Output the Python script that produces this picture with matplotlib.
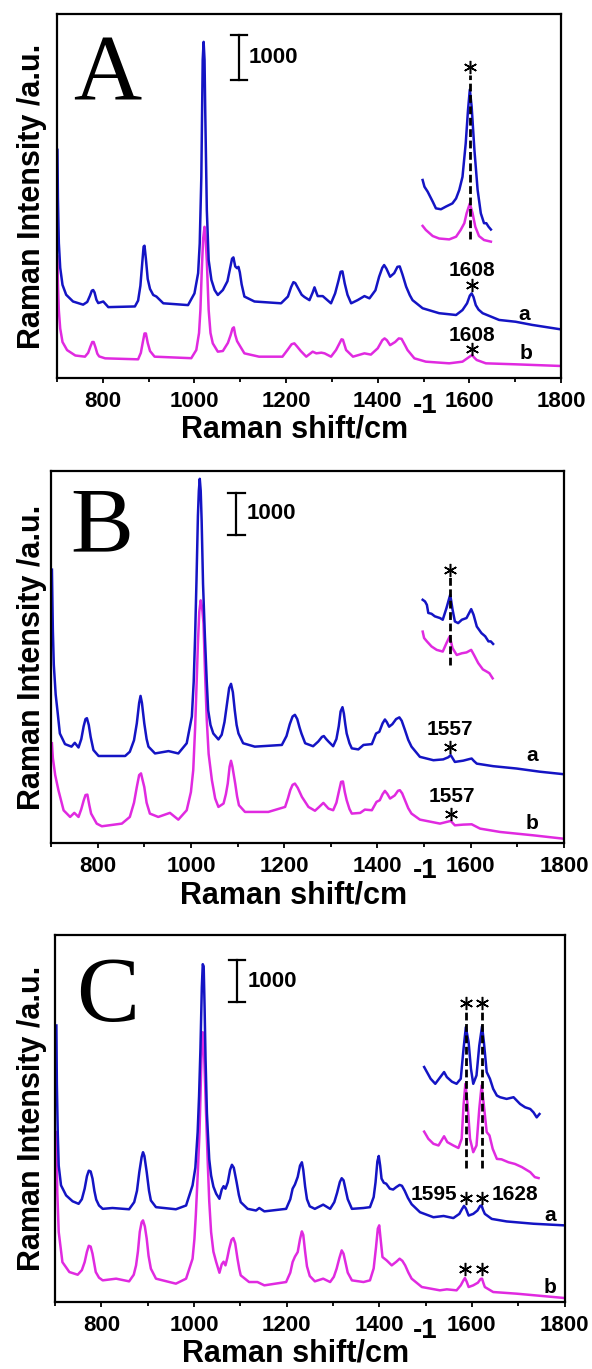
import numpy as np
import matplotlib
matplotlib.use('Agg')
import matplotlib.pyplot as plt
from matplotlib.ticker import MultipleLocator

plt.rcParams['font.family'] = 'Liberation Sans'
plt.rcParams['font.weight'] = 'bold'

BLUE = '#1414c4'
PINK = '#e02ae0'

# ---------------- panel A : (Raman shift, intensity)
A_a = [(701, 5070), (702, 4000), (704, 3000), (707, 2450), (712, 2070), (720, 1850), (735, 1700),
       (757, 1630), (766, 1690), (772, 1830), (776, 1940), (779, 1955), (782, 1900), (786, 1740),
       (790, 1665), (801, 1700), (812, 1575), (870, 1590), (877, 1720), (882, 2050), (886, 2550),
       (889, 2920), (891, 2940), (894, 2650), (898, 2200), (903, 1980), (910, 1845), (917, 1810),
       (932, 1660), (986, 1620), (1000, 1880), (1008, 2330), (1011.5, 2990), (1015, 4470), (1018, 7070),
       (1020, 7470), (1022, 7070), (1023.5, 5950), (1027, 3730), (1031, 2620), (1037, 2180), (1044, 1955),
       (1051, 1845), (1062, 1955), (1072, 2150), (1078, 2450), (1082, 2650), (1085, 2680), (1089, 2480),
       (1093, 2440), (1096, 2470), (1099, 2350), (1103, 2080), (1109, 1810), (1131, 1700), (1189, 1660),
       (1204, 1810), (1211, 2020), (1216, 2130), (1220, 2110), (1227, 1980), (1234, 1850), (1240, 1800),
       (1251, 1730), (1258, 1900), (1262, 2015), (1266, 1900), (1269, 1820), (1280, 1820), (1298, 1660),
       (1307, 1880), (1314, 2150), (1319, 2360), (1323, 2370), (1328, 2100), (1334, 1850), (1342, 1660),
       (1356, 1730), (1371, 1820), (1382, 1770), (1395, 1950), (1403, 2250), (1410, 2450), (1414, 2510),
       (1419, 2430), (1427, 2250), (1436, 2330), (1443, 2470), (1448, 2480), (1454, 2300), (1462, 2030),
       (1470, 1840), (1476, 1730), (1498, 1550), (1534, 1440), (1571, 1400), (1585, 1510), (1595, 1660),
       (1601, 1830), (1605, 1880), (1609, 1800), (1614, 1620), (1620, 1520), (1629, 1440), (1665, 1290),
       (1701, 1250), (1737, 1180), (1800, 1080)]
A_b = [(701, 2700), (702, 2100), (704, 1500), (707, 1100), (712, 800), (722, 620), (740, 500),
       (761, 474), (768, 560), (773, 700), (777, 800), (780, 800), (784, 680), (788, 540), (792, 480),
       (805, 437), (877, 415), (883, 560), (887, 780), (891, 990), (894, 990), (898, 780), (903, 600),
       (913, 474), (993, 440), (1004, 622), (1010, 1000), (1013, 1511), (1016, 2400), (1019, 3100),
       (1022, 3360), (1024, 3150), (1027, 2600), (1031, 1511), (1035, 1000), (1040, 770), (1051, 585),
       (1062, 600), (1073, 780), (1079, 955), (1083, 1100), (1086, 1126), (1089, 960), (1093, 820),
       (1100, 700), (1109, 548), (1141, 474), (1192, 474), (1203, 622), (1212, 750), (1218, 770),
       (1224, 700), (1232, 600), (1244, 474), (1258, 585), (1266, 548), (1277, 563), (1284, 548),
       (1298, 474), (1309, 622), (1316, 760), (1321, 860), (1324, 850), (1331, 622), (1346, 474),
       (1371, 548), (1385, 520), (1400, 660), (1410, 840), (1415, 880), (1420, 840), (1427, 730),
       (1438, 800), (1446, 880), (1452, 870), (1460, 720), (1465, 622), (1480, 437), (1505, 363),
       (1556, 326), (1585, 363), (1600, 470), (1606, 510), (1611, 450), (1616, 400), (1636, 326),
       (1701, 304), (1800, 267)]
A_a_inset = [(1498, 4400), (1502, 4250), (1509, 4140), (1520, 3920), (1527, 3770), (1538, 3750),
             (1549, 3810), (1563, 3880), (1571, 3990), (1578, 4180), (1585, 4470), (1592, 5210),
             (1597, 5950), (1601, 6410), (1605, 6030), (1611, 5070), (1618, 4180), (1625, 3660),
             (1632, 3440), (1637, 3440), (1642, 3360), (1647, 3300)]
A_b_inset = [(1498, 3380), (1505, 3290), (1520, 3155), (1534, 3100), (1556, 3080), (1571, 3140),
             (1581, 3290), (1589, 3440), (1594, 3660), (1601, 3880), (1607, 3660), (1613, 3360),
             (1621, 3155), (1632, 3066), (1647, 3030)]

# ---------------- panel B
B_a = [(702, 6440), (704, 5000), (706, 4200), (710, 3500), (714, 3100), (719, 2580), (730, 2330),
       (744, 2270), (751, 2360), (759, 2250), (765, 2450), (770, 2750), (774, 2920), (777, 2940),
       (781, 2780), (785, 2500), (791, 2190), (802, 2050), (859, 2050), (869, 2150), (878, 2420),
       (884, 2820), (889, 3300), (892, 3465), (895, 3300), (900, 2820), (905, 2450), (909, 2270),
       (923, 2110), (952, 2165), (973, 2110), (991, 2350), (1002, 2980), (1006, 3800), (1009, 4870),
       (1012, 6200), (1015, 7700), (1017, 8300), (1019, 8580), (1021, 8300), (1023, 7600), (1026, 6100),
       (1030, 4870), (1034, 3800), (1037, 3130), (1042, 2780), (1048, 2580), (1059, 2440), (1066, 2550),
       (1072, 2850), (1077, 3250), (1082, 3650), (1086, 3750), (1090, 3550), (1094, 3130), (1098, 2780),
       (1102, 2580), (1112, 2350), (1137, 2270), (1195, 2310), (1205, 2520), (1212, 2800), (1218, 2980),
       (1223, 3020), (1228, 2920), (1233, 2720), (1237, 2580), (1245, 2350), (1262, 2280), (1273, 2390),
       (1281, 2500), (1285, 2520), (1290, 2450), (1295, 2390), (1305, 2280), (1312, 2450), (1317, 2750),
       (1321, 3100), (1325, 3200), (1328, 3050), (1331, 2800), (1334, 2580), (1340, 2350), (1345, 2230),
       (1359, 2205), (1370, 2310), (1388, 2330), (1397, 2580), (1404, 2620), (1411, 2820), (1416, 2910),
       (1420, 2850), (1425, 2740), (1432, 2800), (1440, 2920), (1447, 2960), (1452, 2880), (1459, 2660),
       (1466, 2430), (1473, 2270), (1491, 2030), (1520, 1950), (1541, 1970), (1552, 2020), (1557, 2070),
       (1561, 2000), (1566, 1910), (1584, 1940), (1598, 1980), (1602, 1990), (1607, 1930), (1613, 1870),
       (1648, 1810), (1698, 1755), (1748, 1680), (1800, 1620)]
B_b = [(702, 2350), (704, 2000), (709, 1600), (716, 1240), (727, 770), (741, 614), (750, 710),
       (759, 614), (765, 800), (770, 1000), (774, 1130), (778, 1140), (782, 900), (786, 693), (798, 457),
       (809, 394), (852, 457), (869, 614), (878, 950), (884, 1320), (889, 1600), (893, 1640), (896, 1500),
       (900, 1320), (905, 950), (912, 693), (930, 614), (955, 710), (973, 550), (991, 772), (1000, 1200),
       (1005, 1717), (1009, 2700), (1012, 3685), (1015, 4700), (1018, 5450), (1021, 5717), (1024, 5550),
       (1027, 5180), (1030, 4100), (1034, 2900), (1038, 2100), (1045, 1480), (1052, 1050), (1059, 850),
       (1070, 930), (1075, 1150), (1079, 1400), (1083, 1800), (1086, 1937), (1089, 1800), (1095, 1400),
       (1099, 1100), (1103, 890), (1116, 732), (1166, 732), (1202, 850), (1208, 1050), (1213, 1244),
       (1218, 1370), (1223, 1400), (1229, 1300), (1238, 1087), (1252, 850), (1266, 760), (1275, 850),
       (1284, 945), (1295, 811), (1305, 772), (1312, 950), (1317, 1200), (1322, 1440), (1326, 1450),
       (1330, 1200), (1334, 1008), (1340, 800), (1345, 693), (1363, 709), (1373, 787), (1388, 772),
       (1398, 969), (1405, 1008), (1411, 1150), (1416, 1228), (1421, 1160), (1427, 1047), (1437, 1120),
       (1444, 1230), (1448, 1244), (1453, 1170), (1459, 1008), (1466, 820), (1473, 693), (1491, 551),
       (1534, 457), (1557, 520), (1566, 417), (1584, 433), (1602, 441), (1620, 339), (1663, 260),
       (1734, 181), (1800, 100)]
B_a_inset = [(1497, 5730), (1502, 5690), (1506, 5610), (1509, 5420), (1516, 5400), (1523, 5340),
             (1534, 5300), (1540, 5260), (1548, 5535), (1556, 5850), (1561, 5500), (1566, 5220),
             (1573, 5180), (1581, 5260), (1591, 5300), (1601, 5510), (1606, 5380), (1613, 5100),
             (1623, 4945), (1631, 4870), (1638, 4750), (1643, 4750), (1648, 4690)]
B_b_inset = [(1497, 4980), (1500, 4830), (1506, 4750), (1516, 4630), (1527, 4550), (1540, 4510),
             (1548, 4710), (1555, 4870), (1561, 4590), (1570, 4430), (1581, 4470), (1591, 4490),
             (1601, 4550), (1607, 4430), (1616, 4240), (1626, 4090), (1634, 4040), (1640, 4000),
             (1647, 3880)]

# ---------------- panel C
C_a = [(703, 6590), (704, 5200), (706, 4000), (708, 3250), (713, 2780), (724, 2540), (738, 2400),
       (751, 2340), (758, 2450), (764, 2700), (769, 3000), (773, 3130), (777, 3110), (781, 2940),
       (785, 2650), (789, 2440), (795, 2300), (803, 2220), (824, 2240), (860, 2210), (871, 2380),
       (877, 2650), (882, 3095), (887, 3450), (890, 3570), (893, 3480), (898, 3095), (903, 2650),
       (907, 2420), (918, 2260), (961, 2210), (983, 2300), (997, 2780), (1003, 3200), (1008, 4050),
       (1011, 4900), (1014, 6030), (1017, 7500), (1019, 8050), (1021, 8000), (1023, 7000), (1025, 5800),
       (1028, 4500), (1030, 4050), (1033, 3400), (1037, 3016), (1042, 2750), (1048, 2580), (1055, 2460),
       (1060, 2680), (1064, 2760), (1068, 2700), (1073, 2850), (1078, 3150), (1082, 3270), (1086, 3200),
       (1092, 2860), (1097, 2550), (1101, 2380), (1116, 2220), (1134, 2180), (1141, 2240), (1152, 2160),
       (1199, 2220), (1208, 2450), (1213, 2700), (1218, 2800), (1224, 2980), (1229, 3250), (1233, 3330),
       (1236, 3150), (1240, 2750), (1244, 2450), (1250, 2280), (1261, 2220), (1279, 2320), (1294, 2220),
       (1303, 2380), (1309, 2600), (1315, 2860), (1319, 2950), (1323, 2900), (1327, 2700), (1332, 2450),
       (1341, 2220), (1366, 2240), (1380, 2260), (1388, 2500), (1392, 2850), (1396, 3350), (1399, 3480),
       (1402, 3250), (1405, 2940), (1410, 2840), (1415, 2820), (1423, 2700), (1430, 2680), (1437, 2740),
       (1444, 2790), (1449, 2770), (1455, 2650), (1462, 2480), (1470, 2330), (1488, 2140), (1517, 2020),
       (1539, 2050), (1560, 2000), (1573, 2100), (1579, 2220), (1583, 2290), (1587, 2230), (1593, 2060),
       (1603, 2100), (1612, 2180), (1618, 2290), (1621, 2300), (1624, 2200), (1628, 2100), (1643, 1980),
       (1675, 1920), (1733, 1865), (1800, 1826)]
C_b = [(703, 4050), (704, 3200), (705, 2600), (708, 1670), (716, 950), (731, 714), (749, 650),
       (758, 760), (764, 950), (769, 1200), (773, 1340), (777, 1320), (781, 1150), (785, 900), (788, 714),
       (795, 580), (803, 516), (832, 556), (860, 492), (870, 650), (875, 873), (879, 1200), (883, 1670),
       (887, 1900), (890, 1945), (894, 1800), (898, 1510), (902, 1100), (907, 794), (918, 556), (961, 437),
       (983, 556), (997, 1032), (1001, 1500), (1004, 2064), (1008, 3000), (1012, 4048), (1015, 5300),
       (1017, 6100), (1019, 6429), (1021, 6200), (1024, 5238), (1027, 4200), (1030, 3254), (1033, 2400),
       (1037, 1667), (1042, 1200), (1048, 952), (1055, 698), (1060, 900), (1064, 960), (1068, 873),
       (1072, 1050), (1076, 1270), (1081, 1480), (1085, 1524), (1089, 1400), (1094, 1032), (1098, 780),
       (1101, 635), (1119, 476), (1137, 476), (1152, 397), (1199, 476), (1208, 700), (1213, 952),
       (1218, 1080), (1224, 1190), (1229, 1500), (1233, 1683), (1236, 1600), (1240, 1200), (1244, 850),
       (1250, 620), (1261, 492), (1279, 556), (1294, 476), (1302, 600), (1308, 794), (1314, 1050),
       (1319, 1230), (1323, 1150), (1327, 950), (1332, 700), (1341, 516), (1366, 476), (1380, 516),
       (1388, 800), (1393, 1300), (1397, 1750), (1400, 1826), (1403, 1500), (1407, 1071), (1416, 992),
       (1427, 873), (1437, 960), (1444, 1032), (1450, 980), (1456, 873), (1463, 700), (1470, 556),
       (1492, 357), (1531, 278), (1546, 302), (1567, 278), (1576, 397), (1581, 500), (1585, 571),
       (1589, 480), (1593, 357), (1603, 397), (1613, 460), (1619, 550), (1622, 556), (1625, 450),
       (1628, 357), (1646, 238), (1697, 198), (1800, 95)]
C_a_inset = [(1497, 5600), (1503, 5480), (1511, 5320), (1521, 5200), (1540, 5480), (1546, 5360),
             (1557, 5250), (1567, 5200), (1576, 5320), (1582, 6030), (1587, 6550), (1593, 6190),
             (1598, 5560), (1603, 5200), (1610, 5400), (1616, 6110), (1622, 6570), (1626, 6190),
             (1632, 5480), (1639, 5320), (1646, 5080), (1654, 4920), (1661, 4880), (1675, 4840),
             (1690, 4880), (1704, 4720), (1715, 4640), (1726, 4600), (1733, 4520), (1740, 4400),
             (1746, 4480)]
C_b_inset = [(1497, 4060), (1506, 3890), (1517, 3770), (1528, 3730), (1540, 3950), (1547, 3810),
             (1560, 3730), (1571, 3670), (1578, 3890), (1582, 4680), (1586, 5200), (1591, 4680),
             (1596, 3890), (1603, 3570), (1610, 3730), (1616, 4600), (1621, 5160), (1626, 4680),
             (1632, 4050), (1638, 3970), (1645, 3650), (1654, 3410), (1664, 3400), (1679, 3330),
             (1693, 3290), (1708, 3215), (1726, 3095), (1736, 2976), (1744, 2953)]

# annotations: dashed guide lines (x, y_low, y_high), asterisks (x, y), labels (x, y, text, ha)
A_guides = [(1601, 3100, 6730)]
A_stars = [(1601, 6920), (1606, 2067), (1606, 640)]
A_labels = [(1606, 2390, '1608', 'center'), (1606, 940, '1608', 'center'),
            (1719, 1422, 'a', 'center'), (1723, 548, 'b', 'center')]
B_guides = [(1556, 4205, 6283)]
B_stars = [(1556, 6441), (1556, 2252), (1557, 693)]
B_labels = [(1555, 2677, '1557', 'center'), (1559, 1107, '1557', 'center'),
            (1731, 2071, 'a', 'center'), (1731, 457, 'b', 'center')]
C_guides = [(1587, 3200, 6900), (1622, 3200, 6900)]
C_stars = [(1587, 7130), (1622, 7130), (1587, 2484), (1622, 2484), (1585, 778), (1622, 778)]
C_labels = [(1569, 2564, '1595', 'right'), (1643, 2564, '1628', 'left'),
            (1769, 2064, 'a', 'center'), (1769, 357, 'b', 'center')]

# axes boxes in pixels (left, right, top, bottom), y-limits, scale bar, panel letter
W, H = 592, 1369
boxes = [(57, 561, 14, 378), (51, 564, 471, 843), (55, 564.5, 935, 1302)]
ylims = [8089, 8764, 8746]
scale_bars = [(1097, 6622), (1097, 7252), (1093, 7143)]
letters = [('A', 736, 6190), ('B', 741, 6874), ('C', 745, 6700)]

panels = [
    (A_a, A_b, A_a_inset, A_b_inset, A_guides, A_stars, A_labels),
    (B_a, B_b, B_a_inset, B_b_inset, B_guides, B_stars, B_labels),
    (C_a, C_b, C_a_inset, C_b_inset, C_guides, C_stars, C_labels),
]

fig = plt.figure(figsize=(W / 100, H / 100), dpi=100)

for i, (sa, sb, ia, ib, guides, stars, labels) in enumerate(panels):
    l, r, t, b = boxes[i]
    ax = fig.add_axes([l / W, 1 - b / H, (r - l) / W, (b - t) / H])

    for data, col in ((sb, PINK), (sa, BLUE), (ib, PINK), (ia, BLUE)):
        x, y = np.array(data).T
        ax.plot(x, y, color=col, lw=1.8, solid_joinstyle='round')

    for gx, g0, g1 in guides:
        ax.plot([gx, gx], [g0, g1], color='k', lw=2, ls=(0, (2.8, 1.3)))
    sx, sy = np.array(stars).T
    ax.plot(sx, sy, ls='none', marker=(6, 2, 0), ms=9.5, mew=1.1, color='k')
    for tx, ty, s, ha in labels:
        ax.text(tx, ty, s, ha=ha, va='center', fontsize=15, fontweight='bold')

    # 1000-count scale bar
    bx, by = scale_bars[i]
    ax.plot([bx, bx], [by, by + 1000], color='k', lw=1.6)
    ax.plot([bx - 18, bx + 18], [by, by], color='k', lw=1.6)
    ax.plot([bx - 18, bx + 18], [by + 1000, by + 1000], color='k', lw=1.6)
    ax.text(bx + 22, by + 500, '1000', ha='left', va='center', fontsize=16, fontweight='bold')

    let, lx, ly = letters[i]
    ax.text(lx, ly, let, ha='left', va='baseline', fontsize=68,
            family='Liberation Serif', fontweight='normal')

    ax.set_xlim(700, 1800)
    ax.set_ylim(0, ylims[i])
    ax.xaxis.set_major_locator(MultipleLocator(200))
    ax.xaxis.set_minor_locator(MultipleLocator(100))
    ax.set_xticks([800, 1000, 1200, 1400, 1600, 1800])
    ax.set_yticks([])
    ax.tick_params(axis='x', which='major', direction='out', length=3.6, width=1.3,
                   labelsize=16, pad=5.8)
    ax.tick_params(axis='x', which='minor', direction='out', length=3, width=1.3)
    for lab in ax.get_xticklabels():
        lab.set_fontweight('bold')
    for sp in ax.spines.values():
        sp.set_linewidth(1.6)

    ax.set_xlabel('Raman shift/cm', fontsize=22, fontweight='bold')
    ax.xaxis.set_label_coords(0.472, -37 / (b - t))
    ax.set_ylabel('Raman Intensity /a.u.', fontsize=22, fontweight='bold')
    ax.yaxis.set_label_coords((47 - l) / (r - l), 0.5)
    ax.text((413 - l) / (r - l), -28.5 / (b - t), '-1', transform=ax.transAxes,
            ha='left', va='center', fontsize=20, fontweight='bold')

fig.savefig('out.png', dpi=100)
